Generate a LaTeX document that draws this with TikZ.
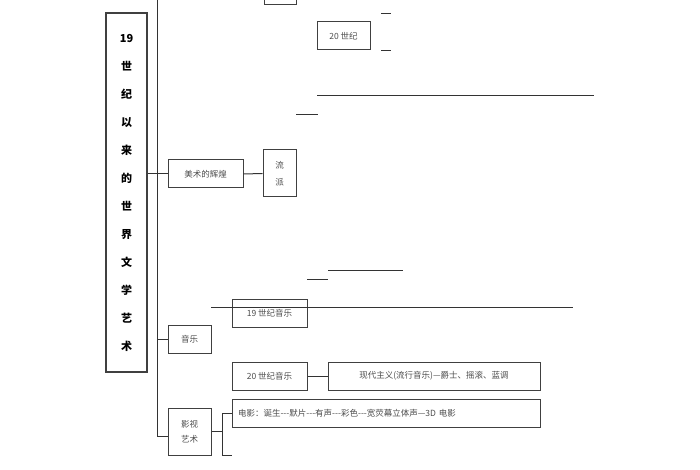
\documentclass[tikz,border=0pt]{standalone}
\usepackage{fontspec}
\newfontfamily\cjk{Noto Sans CJK SC}
\begin{document}
\begin{tikzpicture}[x=1pt,y=-1pt,
  bx/.style={draw=black!75,line width=1pt,inner sep=0pt,font=\cjk\fontsize{8.5}{10}\selectfont,text=black!70},
  ln/.style={draw=black!80,line width=1pt}]
\useasboundingbox (0,0) rectangle (700,470);
\node[bx,line width=1.2pt,minimum width=41pt,minimum height=359pt,text=black,font=\cjk\bfseries\fontsize{11}{28}\selectfont,align=center] (main) at (126.5,192.5) {19\\世\\纪\\以\\来\\的\\世\\界\\文\\学\\艺\\术};
\coordinate (t0) at (157,0); \coordinate (t1) at (157,436);
\draw[ln] (t0) -- (t1);
\node[bx,minimum width=75pt,minimum height=28pt] (ms) at (205.5,174) {美术的辉煌};
\node[bx,minimum width=33pt,minimum height=47pt,align=center,font=\cjk\fontsize{8.5}{17}\selectfont] (lp) at (279.5,173.5) {流\\派};
\draw[ln] (main.east|-ms) -- (ms.west);
\draw[ln] (ms.east) -- (lp.west);
\node[bx,minimum width=32pt,minimum height=10pt] (top) at (280,0) {};
\node[bx,minimum width=53pt,minimum height=28pt] (c20) at (343.5,36) {20 世纪};
\coordinate (a1) at (381,13); \coordinate (a2) at (391,13); \draw[ln,line width=0.6pt] (a1)--(a2);
\coordinate (b1) at (381,50); \coordinate (b2) at (391,50); \draw[ln,line width=0.6pt] (b1)--(b2);
\coordinate (c1) at (317,96); \coordinate (c2) at (594,96); \draw[ln] (c1)--(c2);
\coordinate (d1) at (296,114); \coordinate (d2) at (318,114); \draw[ln,line width=0.6pt] (d1)--(d2);
\coordinate (e1) at (328,270); \coordinate (e2) at (403,270); \draw[ln] (e1)--(e2);
\coordinate (f1) at (307,279); \coordinate (f2) at (328,279); \draw[ln,line width=0.6pt] (f1)--(f2);
\node[bx,minimum width=43pt,minimum height=28pt] (yy) at (189.5,339) {音乐};
\draw[ln] (t0|-yy) -- (yy.west);
\node[bx,minimum width=75pt,minimum height=28pt] (m19) at (269.5,313) {19 世纪音乐};
\coordinate (g1) at (211,307); \coordinate (g2) at (573,307); \draw[ln] (g1)--(g2);
\node[bx,minimum width=75pt,minimum height=28pt] (m20) at (269.5,376) {20 世纪音乐};
\node[bx,minimum width=212pt,minimum height=28pt] (xd) at (434,376) {现代主义(流行音乐)—爵士、摇滚、蓝调};
\draw[ln] (m20.east) -- (xd.west);
\node[bx,minimum width=43pt,minimum height=47pt,align=center,font=\cjk\fontsize{8.5}{15}\selectfont] (ys) at (189.5,431.5) {影视\\艺术};
\draw[ln] (t1) -- (ys.west|-t1);
\node[bx,minimum width=308pt,minimum height=28pt,text width=296pt,align=left] (dy) at (386,413) {电影：诞生---默片---有声---彩色---宽荧幕立体声—3D 电影};
\coordinate (k) at (222,431.5); \coordinate (k2) at (222,455); \coordinate (k3) at (232,455);
\draw[ln] (ys.east) -- (k);
\draw[ln] (k2) |- (dy.west);
\draw[ln] (k2) -- (k3);
\end{tikzpicture}
\end{document}
